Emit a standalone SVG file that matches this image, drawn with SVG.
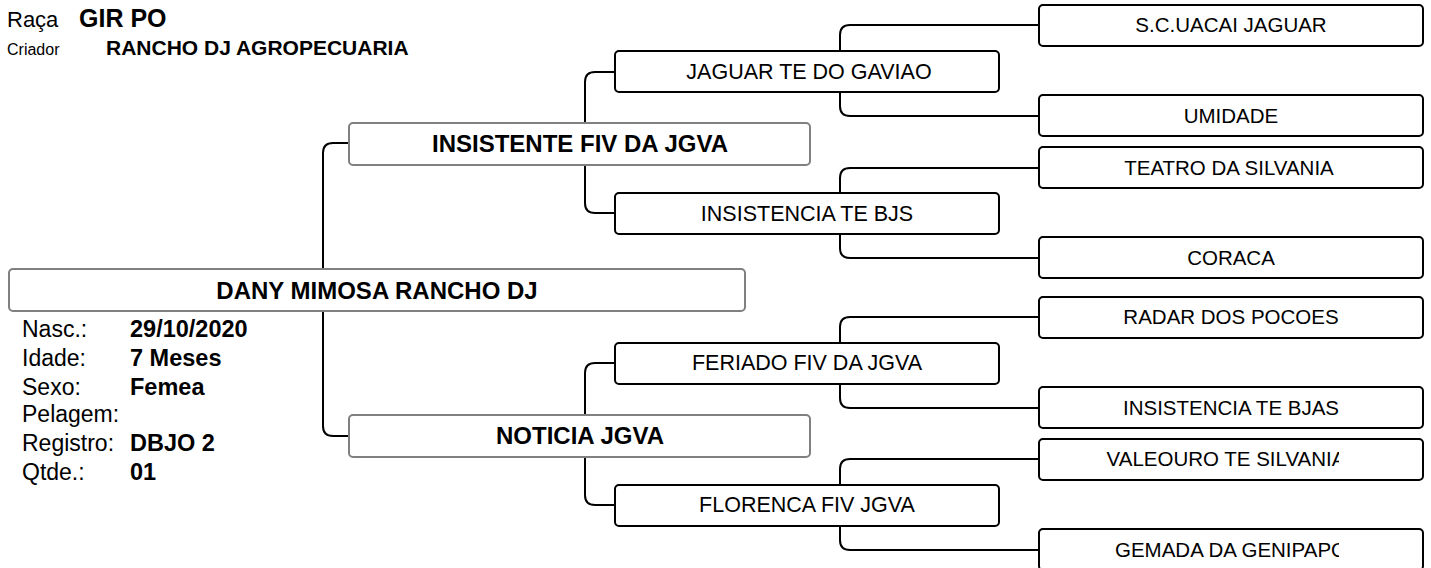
<svg xmlns="http://www.w3.org/2000/svg" width="1431" height="568" viewBox="0 0 1431 568">
<defs>
<style>
text{font-family:"Liberation Sans",Arial,sans-serif;fill:#000}
.hdr{font-size:22px}
.hdrb{font-size:25px;font-weight:bold}
.cri{font-size:16px}
.crib{font-size:21px;font-weight:bold}
.lab{font-size:23px}
.val{font-size:23.5px;font-weight:bold}
.gbox{fill:#fff;stroke:#808080;stroke-width:2}
.kbox{fill:#fff;stroke:#000;stroke-width:2}
.t1{font-size:24px;font-weight:bold;text-anchor:middle}
.t2{font-size:21.5px;text-anchor:middle}
.t3{font-size:20.5px;text-anchor:middle}
.conn path{fill:none;stroke:#000;stroke-width:2}
</style>
<clipPath id="c3" clipPathUnits="userSpaceOnUse"><rect x="1039" y="0" width="300" height="568"/></clipPath>
</defs>
<rect width="1431" height="568" fill="#fff"/>

<g id="header">
<text class="hdr" x="7" y="27">Raça</text>
<text class="hdrb" x="79" y="27">GIR PO</text>
<text class="cri" x="7" y="55">Criador</text>
<text class="crib" x="106" y="55">RANCHO DJ AGROPECUARIA</text>
</g>

<g class="conn" id="connectors">
<path d="M349,143 H333 Q323,143 323,153 V426 Q323,436 333,436 H351"/>
<path d="M615,72 H595 Q585,72 585,82 V203 Q585,213 595,213 H615"/>
<path d="M615,363 H595 Q585,363 585,373 V495 Q585,505 595,505 H615"/>
<path d="M1039,25 H850 Q840,25 840,35 V106 Q840,116 850,116 H1039"/>
<path d="M1039,168 H850 Q840,168 840,178 V248 Q840,258 850,258 H1039"/>
<path d="M1039,317 H850 Q840,317 840,327 V398 Q840,408 850,408 H1039"/>
<path d="M1039,459 H850 Q840,459 840,469 V540 Q840,550 850,550 H1039"/>
</g>

<g id="subject">
<rect class="gbox" x="9" y="269" width="736" height="42" rx="4"/>
<text class="t1" x="377" y="299">DANY MIMOSA RANCHO DJ</text>
</g>

<g id="info">
<text class="lab" x="22" y="337">Nasc.:</text><text class="val" x="130" y="337">29/10/2020</text>
<text class="lab" x="22" y="366">Idade:</text><text class="val" x="130" y="366">7 Meses</text>
<text class="lab" x="22" y="395">Sexo:</text><text class="val" x="130" y="395">Femea</text>
<text class="lab" x="22" y="422">Pelagem:</text>
<text class="lab" x="22" y="451">Registro:</text><text class="val" x="130" y="451">DBJO 2</text>
<text class="lab" x="22" y="480">Qtde.:</text><text class="val" x="130" y="480">01</text>
</g>

<g id="sire">
<rect class="gbox" x="349" y="123" width="461" height="42" rx="4"/>
<text class="t1" x="580" y="152">INSISTENTE FIV DA JGVA</text>
</g>
<g id="dam">
<rect class="gbox" x="349" y="415" width="461" height="42" rx="4"/>
<text class="t1" x="580" y="444">NOTICIA JGVA</text>
</g>

<g id="ss">
<rect class="kbox" x="615" y="51" width="384" height="41" rx="4"/>
<text class="t2" x="809" y="79">JAGUAR TE DO GAVIAO</text>
</g>
<g id="sd">
<rect class="kbox" x="615" y="193" width="384" height="41" rx="4"/>
<text class="t2" x="807" y="221">INSISTENCIA TE BJS</text>
</g>
<g id="ds">
<rect class="kbox" x="615" y="343" width="384" height="41" rx="4"/>
<text class="t2" x="807" y="370">FERIADO FIV DA JGVA</text>
</g>
<g id="dd">
<rect class="kbox" x="615" y="485" width="384" height="41" rx="4"/>
<text class="t2" x="807" y="512">FLORENCA FIV JGVA</text>
</g>

<g id="sss">
<rect class="kbox" x="1039" y="5" width="384" height="41" rx="4"/>
<text class="t3" x="1231" y="32" clip-path="url(#c3)">S.C.UACAI JAGUAR</text>
</g>
<g id="ssd">
<rect class="kbox" x="1039" y="95" width="384" height="41" rx="4"/>
<text class="t3" x="1231" y="123" clip-path="url(#c3)">UMIDADE</text>
</g>
<g id="sds">
<rect class="kbox" x="1039" y="147" width="384" height="41" rx="4"/>
<text class="t3" x="1229" y="175" clip-path="url(#c3)">TEATRO DA SILVANIA</text>
</g>
<g id="sdd">
<rect class="kbox" x="1039" y="237" width="384" height="41" rx="4"/>
<text class="t3" x="1231" y="265" clip-path="url(#c3)">CORACA</text>
</g>
<g id="dss">
<rect class="kbox" x="1039" y="297" width="384" height="41" rx="4"/>
<text class="t3" x="1231" y="324" clip-path="url(#c3)">RADAR DOS POCOES</text>
</g>
<g id="dsd">
<rect class="kbox" x="1039" y="387" width="384" height="41" rx="4"/>
<text class="t3" x="1231" y="415" clip-path="url(#c3)">INSISTENCIA TE BJAS</text>
</g>
<g id="dds">
<rect class="kbox" x="1039" y="439" width="384" height="41" rx="4"/>
<text class="t3" x="1226" y="466" clip-path="url(#c3)">VALEOURO TE SILVANIA</text>
</g>
<g id="ddd">
<rect class="kbox" x="1039" y="529" width="384" height="41" rx="4"/>
<text class="t3" x="1231" y="557" clip-path="url(#c3)">GEMADA DA GENIPAPO</text>
</g>
</svg>
